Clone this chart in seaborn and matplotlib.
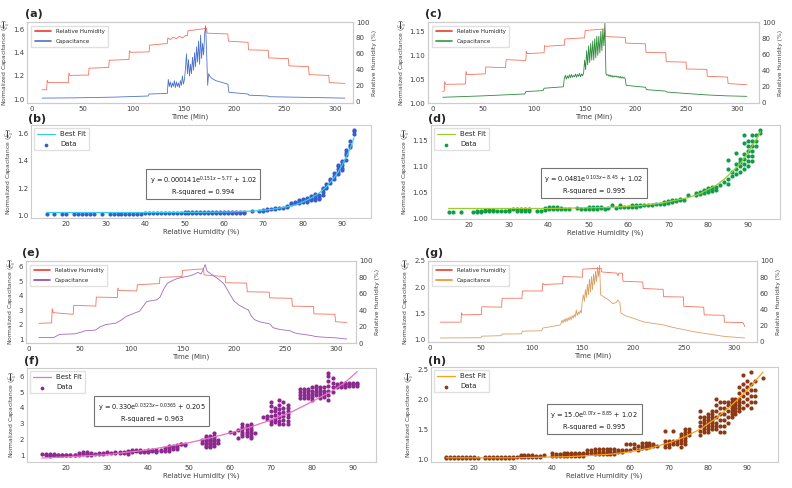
import numpy as np
import pandas as pd
import seaborn as sns
import matplotlib
matplotlib.use("Agg")
import matplotlib.pyplot as plt
from matplotlib.lines import Line2D

# ---------------- time series (top panels) ----------------
# (a)
rh_a_t = [10, 14.5, 15, 16, 36, 36.5, 37.5, 56, 56.5, 76, 76.5, 96, 96.5, 97.5, 116, 116.5, 134, 134.5,
          137, 140, 143, 146, 149, 152, 154, 154.5, 173, 173.5, 194, 194.5, 214, 214.5, 234, 234.5,
          254, 254.5, 274, 274.5, 294, 294.5, 310]
rh_a_v = [15, 15, 27, 24, 24, 36, 33, 33.5, 42, 43, 52, 53, 64, 62, 62.5, 71, 73, 80,
          78, 81, 79, 82, 80, 83, 83, 89, 92, 86, 85, 76, 74.5, 65, 64.5, 55,
          54, 45, 44, 34, 33, 24, 23]
cap_a_t = [10, 40, 80, 115, 116, 134] + list(range(135, 174)) + \
          [174, 175, 176, 178, 182, 186, 190, 194, 195, 214, 215, 234, 235, 260, 285, 310]
cap_a_v = [1.010, 1.012, 1.018, 1.028, 1.045, 1.05,
           1.17, 1.11, 1.15, 1.10, 1.14, 1.11, 1.16, 1.10, 1.15, 1.11, 1.14, 1.10, 1.16, 1.12, 1.20,
           1.13, 1.17, 1.26, 1.39, 1.22, 1.34, 1.20, 1.30, 1.22, 1.36, 1.25, 1.40, 1.28, 1.45, 1.32,
           1.50, 1.30, 1.55, 1.35, 1.48, 1.38, 1.56, 1.63, 1.40,
           1.12, 1.22, 1.20, 1.18, 1.16, 1.15, 1.14, 1.13, 1.06, 1.045, 1.035, 1.028, 1.022, 1.018, 1.014, 1.010]

# (c)
rh_c_t = [10, 11.5, 12, 13, 32.5, 33, 34, 52, 52.5, 72, 72.5, 92, 92.5, 93.5, 110, 110.5, 111.5, 130, 130.5,
          150, 150.5, 170, 170.5, 190, 190.5, 210, 210.5, 230, 230.5, 250, 250.5, 270.5, 271, 291, 291.5, 310]
rh_c_v = [14, 15, 26.5, 23, 23.5, 39, 35, 36, 44.5, 43.5, 53.5, 52.5, 64, 61, 62, 71, 70, 71.5, 79,
          80.5, 89.5, 91.5, 82, 81, 74, 73, 62.5, 62, 51, 50.5, 42, 41.5, 33, 32, 24, 22.5]
cap_c_t = [10, 50, 91, 92, 109, 110, 129] + list(range(130, 191)) + [191, 210, 211, 230, 231, 250, 270, 290, 310]
cap_c_v = [1.012, 1.015, 1.019, 1.024, 1.026, 1.031, 1.034,
           1.052, 1.058, 1.050, 1.057, 1.052, 1.059, 1.053, 1.060, 1.054, 1.058,
           1.055, 1.061, 1.054, 1.060, 1.056, 1.062, 1.055, 1.061, 1.057, 1.063,
           1.09, 1.07, 1.11, 1.08, 1.12, 1.085, 1.125, 1.09, 1.13, 1.09, 1.135,
           1.095, 1.14, 1.10, 1.14, 1.105, 1.15, 1.11, 1.155, 1.12, 1.168,
           1.062, 1.058, 1.060, 1.056, 1.059, 1.055, 1.058, 1.054, 1.057, 1.055,
           1.057, 1.054, 1.056, 1.053, 1.056, 1.052, 1.055, 1.052, 1.054, 1.051,
           1.037, 1.033, 1.028, 1.025, 1.023, 1.020, 1.017, 1.015, 1.014]

# (e)
rh_e_t = [10, 22.5, 23, 24, 43.5, 44, 65.5, 66, 86.5, 87, 88, 105.5, 106, 127.5, 128, 149.5, 150, 170.5, 171,
          191.5, 192, 212.5, 213, 234.5, 235, 256.5, 257, 277.5, 278, 298.5, 299, 310]
rh_e_v = [24, 24.5, 42, 37, 35, 46, 45, 56, 55.5, 67, 64, 63.5, 71, 72.5, 80, 81, 88.5, 90.5, 83,
          81, 73.5, 73, 62.5, 62, 55, 54.5, 45, 44.5, 35.5, 35, 26, 25]
cap_e_t = [10, 20, 25, 30, 45, 50, 55, 65, 70, 75, 85, 90, 95, 105, 108, 112, 115, 125, 128, 132,
           135, 140, 145, 150, 155, 160, 165, 168, 170, 172, 174, 180, 185, 190, 193, 197, 200, 205, 210, 214,
           217, 220, 225, 230, 235, 238, 240, 245, 255, 258, 262, 270, 275, 280, 285, 300, 310]
cap_e_v = [1.11, 1.10, 1.12, 1.32, 1.36, 1.45, 1.57, 1.62, 1.85, 2.0, 2.1, 2.3, 2.56, 2.85, 2.92, 3.3, 3.6, 3.72, 3.9, 4.5,
           4.85, 5.05, 5.2, 5.28, 5.35, 5.45, 5.62, 5.5, 5.8, 6.16, 5.7, 5.4, 5.15, 4.85, 4.5, 4.0, 3.65, 3.35, 3.15, 3.02,
           2.6, 2.35, 2.2, 2.12, 2.05, 1.8, 1.75, 1.66, 1.57, 1.45, 1.38, 1.3, 1.25, 1.17, 1.14, 1.08, 1.0]

# (g)
rh_g_t = [10, 30.5, 31, 32, 50.5, 51, 70.5, 71, 90.5, 91, 110.5, 111, 112, 130.5, 131, 150, 150.5, 168.5, 169,
          184, 185, 186, 189.5, 190, 209.5, 210, 229.5, 230, 249.5, 250, 269.5, 270, 289.5, 290, 308, 309, 310]
rh_g_v = [24.5, 24.5, 36, 33.5, 34, 43.5, 43, 54, 54, 63, 63, 72.5, 71, 72, 81, 80, 90, 91, 86.5,
          85, 81.5, 85, 85, 75, 74, 66, 65, 56, 55.5, 44, 43, 33.5, 33, 24.5, 24, 22, 19]
cap_g_t = [10, 50, 51, 70, 71, 90, 91, 110, 111, 128] + list(range(129, 168)) + \
          [168, 172, 176, 180, 183, 185, 187, 188, 192, 200, 210, 220, 230, 240, 250, 260, 270, 280, 290, 300, 310]
cap_g_v = [1.02, 1.025, 1.055, 1.065, 1.095, 1.10, 1.15, 1.16, 1.21, 1.27,
           1.30, 1.36, 1.31, 1.38, 1.33, 1.40, 1.34, 1.41, 1.36, 1.43, 1.37, 1.45, 1.40, 1.47, 1.42, 1.56,
           1.45, 1.52, 1.48, 1.55, 1.50,
           1.75, 1.85, 1.72, 1.95, 1.80, 2.05, 1.85, 2.15, 1.90, 2.20, 1.95, 2.25, 2.05, 2.30, 2.10, 2.38,
           2.20, 2.42,
           1.85, 1.80, 1.75, 1.68, 1.70, 1.75, 1.70, 1.50, 1.45, 1.40, 1.33, 1.30, 1.27, 1.22, 1.18, 1.14,
           1.11, 1.08, 1.05, 1.035, 1.02]

# ---------------- scatter + fit (bottom panels) ----------------
# (b)
b_rh = [15, 17, 19, 20, 22, 23, 24, 25, 26, 27, 29, 31, 32, 33, 34, 35, 36, 37, 38, 39,
        40, 41, 42, 43, 44, 45, 46, 47, 48, 49, 50, 51, 52, 53, 54, 55, 56, 57, 58, 59,
        60, 61, 62, 63, 64, 65, 67, 69, 70, 71, 72, 73, 74, 75, 76, 77, 78, 79, 80, 81,
        82, 83, 84, 85, 86, 87, 88, 89, 90, 91, 92, 93]
b_cap = [[1.01], [1.01], [1.01], [1.01], [1.01], [1.01], [1.01], [1.01], [1.01], [1.01], [1.01],
         [1.012], [1.012], [1.012], [1.012], [1.012], [1.012], [1.012], [1.012], [1.012],
         [1.015], [1.015], [1.015], [1.015], [1.015], [1.015], [1.015], [1.015], [1.015], [1.015],
         [1.018, 1.022], [1.018, 1.022], [1.018, 1.022], [1.018, 1.022], [1.018, 1.022],
         [1.018, 1.022], [1.018, 1.022], [1.018, 1.022], [1.018, 1.022], [1.018, 1.022],
         [1.02, 1.025], [1.02, 1.025], [1.02, 1.025], [1.02, 1.025], [1.02, 1.025], [1.02, 1.025],
         [1.028], [1.035], [1.035, 1.04], [1.04, 1.045], [1.045], [1.045, 1.05], [1.05], [1.055],
         [1.06, 1.065], [1.08, 1.09], [1.09, 1.1], [1.09, 1.1, 1.11], [1.1, 1.11, 1.12],
         [1.1, 1.11, 1.12, 1.13], [1.11, 1.12, 1.13, 1.14], [1.11, 1.13, 1.15, 1.16],
         [1.12, 1.13, 1.14, 1.15], [1.15, 1.17, 1.19, 1.2], [1.2, 1.21, 1.23], [1.24, 1.26, 1.27],
         [1.27, 1.29, 1.31], [1.3, 1.32, 1.34, 1.36, 1.37], [1.33, 1.35, 1.37, 1.39, 1.4],
         [1.41, 1.44, 1.46, 1.48], [1.5, 1.52, 1.55], [1.6, 1.62, 1.63]]
b_fit_x = [15, 40, 55, 62, 68, 72, 75, 78, 80, 82, 84, 86, 88, 89, 90, 91, 92, 93]
b_fit_y = [1.02, 1.02, 1.022, 1.025, 1.032, 1.043, 1.057, 1.075, 1.098, 1.125, 1.16, 1.21, 1.28, 1.32,
           1.37, 1.43, 1.49, 1.57]

# (d)
d_rh = [15, 16, 18, 21, 22, 23, 24, 25, 26, 27, 28, 29, 30, 31, 32, 33, 34, 35,
        37, 38, 39, 40, 41, 42, 43, 44, 45, 47, 48, 49, 50, 51, 52, 53, 54, 55, 56, 57, 58, 59,
        60, 61, 62, 63, 64, 65, 66, 67, 68, 69, 70, 71, 72, 73, 74, 75,
        77, 78, 79, 80, 81, 82, 83, 84, 85, 86, 87, 88, 89, 90, 91, 92, 93]
d_cap = [[1.012], [1.012], [1.012], [1.012], [1.013, 1.015], [1.013, 1.015], [1.014, 1.016], [1.014, 1.016],
         [1.014, 1.016], [1.015], [1.015], [1.015], [1.015, 1.017], [1.018], [1.015, 1.018], [1.015, 1.018],
         [1.015, 1.018], [1.015, 1.018],
         [1.015], [1.015], [1.017, 1.02], [1.018, 1.021], [1.018, 1.021], [1.018, 1.021], [1.018, 1.02],
         [1.018], [1.018], [1.02], [1.018], [1.018], [1.018, 1.022], [1.018, 1.022], [1.018, 1.022],
         [1.02, 1.022], [1.018], [1.02], [1.025], [1.02], [1.022, 1.025], [1.022],
         [1.022], [1.022, 1.026], [1.022, 1.026], [1.023, 1.026], [1.025], [1.025], [1.026], [1.027],
         [1.028], [1.028, 1.032], [1.03, 1.033], [1.032, 1.036], [1.033, 1.036], [1.035, 1.037], [1.036],
         [1.045],
         [1.045, 1.048], [1.046, 1.05], [1.048, 1.052, 1.055], [1.05, 1.055, 1.058], [1.052, 1.057, 1.06],
         [1.055, 1.06], [1.065], [1.07], [1.067, 1.075, 1.095, 1.112], [1.082, 1.09],
         [1.085, 1.095, 1.105, 1.126], [1.09, 1.1, 1.108, 1.115], [1.095, 1.105, 1.115, 1.125, 1.145, 1.16],
         [1.1, 1.11, 1.12, 1.13, 1.14, 1.15], [1.11, 1.12, 1.13, 1.14, 1.15, 1.16], [1.14, 1.15, 1.16],
         [1.165, 1.17]]
d_fit_x = [15, 40, 55, 62, 68, 72, 75, 78, 80, 82, 84, 86, 88, 90, 92, 93]
d_fit_y = [1.019, 1.019, 1.021, 1.024, 1.029, 1.035, 1.04, 1.048, 1.056, 1.064, 1.076, 1.09, 1.106,
           1.128, 1.152, 1.167]

# (f)
f_rh = [14, 15, 16, 17, 18, 19, 20, 21, 22, 23, 24, 25, 26, 27, 28, 29, 30, 31, 32, 33, 34, 35,
        36, 37, 38, 39, 40, 41, 42, 43, 44, 45, 46, 47, 48, 49, 53, 54, 55, 56, 57,
        60, 61, 62, 63, 64, 65, 66, 68, 69, 70, 71, 72, 73, 74,
        77, 78, 79, 80, 81, 82, 83, 84, 85, 86, 87, 88, 89, 90, 91]
f_cap = [[1.1], [1.05, 1.1], [0.95, 1.05, 1.1], [1.0, 1.05, 1.1], [1.02, 1.05], [1.0, 1.05], [1.0, 1.05],
         [1.0, 1.05], [1.02, 1.05], [1.05, 1.15], [1.1, 1.2], [1.0, 1.1, 1.2], [1.0, 1.1, 1.15], [1.1],
         [1.1, 1.15], [1.1, 1.15], [1.15, 1.2], [1.15], [1.15, 1.2], [1.15, 1.2], [1.15, 1.2],
         [1.1, 1.2, 1.3], [1.2, 1.3, 1.35], [1.25, 1.35], [1.2, 1.3, 1.35], [1.2, 1.3], [1.2, 1.3, 1.35],
         [1.25, 1.35], [1.2, 1.3, 1.35], [1.25, 1.35], [1.3, 1.45], [1.3, 1.4, 1.5, 1.6], [1.4, 1.5, 1.6],
         [1.4, 1.55, 1.65], [1.7, 1.75], [1.65, 1.75],
         [1.8, 2.0], [1.5, 1.6, 1.7, 1.8, 1.9, 2.0, 2.1, 2.2], [1.5, 1.6, 1.7, 1.8, 1.9, 2.0, 2.1, 2.2],
         [1.6, 1.7, 1.8, 1.9, 2.0, 2.1, 2.2, 2.4], [1.8, 2.0],
         [2.45], [2.4], [2.1, 2.6], [2.2, 2.35, 2.5, 2.65, 2.8, 3.0], [2.2, 2.35, 2.5, 2.65, 2.8, 2.95],
         [2.1, 2.25, 2.4, 2.55, 2.7, 2.85, 3.0], [2.4],
         [3.4], [3.3, 3.5], [3.0, 3.2, 3.5, 3.8, 4.1, 4.4], [3.1, 3.3, 3.55, 3.8, 4.0],
         [3.0, 3.2, 3.45, 3.7, 3.95, 4.2, 4.5], [3.0, 3.25, 3.5, 3.75, 4.0, 4.4],
         [3.0, 3.2, 3.4, 3.6, 3.8, 4.0, 4.2],
         [4.6, 4.8, 5.0, 5.2], [4.6, 4.8, 5.0, 5.2], [4.6, 4.75, 4.9, 5.05, 5.2], [4.5, 4.7, 4.9, 5.1, 5.3],
         [4.8, 4.95, 5.1, 5.25, 5.4], [4.6, 4.8, 5.0, 5.15, 5.3], [4.7, 4.9, 5.1, 5.3],
         [4.5, 4.8, 5.1, 5.4, 5.7, 6.0, 6.2], [5.0, 5.3, 5.6, 5.9], [5.3, 5.4, 5.5], [5.35, 5.45, 5.55],
         [5.35, 5.45, 5.55], [5.4, 5.5, 5.6], [5.4, 5.5, 5.6], [5.4, 5.5, 5.6]]
f_fit_x = [14, 20, 30, 40, 50, 55, 60, 65, 70, 75, 80, 85, 88, 91]
f_fit_y = [0.83, 0.9, 1.05, 1.35, 1.8, 2.1, 2.42, 2.8, 3.25, 3.75, 4.4, 5.1, 5.6, 6.3]

# (h)
h_rh = [13, 14, 15, 16, 17, 18, 19, 20, 21,
        23, 24, 25, 26, 27, 28, 29, 30, 31, 32, 33, 34, 35, 36, 37, 38,
        40, 41, 42, 43, 44, 45, 46, 47, 48, 49, 50, 51, 52, 53, 54, 55, 56, 57, 58, 59, 60, 61, 62,
        63, 64, 65, 66, 67,
        69, 70, 71, 72, 73, 74, 75,
        78, 79, 80, 81, 82, 83, 84, 85, 86, 87, 88, 89, 90, 91, 92, 94]
h_cap = [[1.02, 1.04], [1.02, 1.04], [1.02, 1.04], [1.02, 1.04], [1.02, 1.04], [1.02, 1.04],
         [1.02, 1.04], [1.02, 1.04], [1.02],
         [1.02, 1.04], [1.02, 1.04], [1.02, 1.04], [1.02, 1.04], [1.02, 1.04], [1.02, 1.04],
         [1.02, 1.04], [1.02, 1.04], [1.03], [1.03, 1.05, 1.07], [1.03, 1.05, 1.07], [1.03, 1.05, 1.07],
         [1.03, 1.05, 1.07], [1.03, 1.05], [1.03, 1.05], [1.06],
         [1.05, 1.1], [1.05, 1.08], [1.05, 1.08], [1.05, 1.08, 1.1], [1.05, 1.08, 1.1], [1.05, 1.08, 1.1],
         [1.05, 1.08, 1.1], [1.05, 1.08, 1.1], [1.05, 1.08, 1.1], [1.1, 1.15], [1.1, 1.15],
         [1.08, 1.12, 1.16], [1.08, 1.12, 1.16], [1.08, 1.12, 1.16], [1.08, 1.12, 1.16], [1.08, 1.12, 1.16],
         [1.08, 1.12, 1.16], [1.12, 1.15], [1.12, 1.15], [1.15, 1.25], [1.15, 1.25], [1.18, 1.25],
         [1.15, 1.22], [1.18, 1.22, 1.27], [1.18, 1.22, 1.27], [1.2, 1.24, 1.27], [1.22, 1.25], [1.22],
         [1.2, 1.25, 1.3, 1.47], [1.2, 1.25, 1.3], [1.25, 1.3, 1.47], [1.25, 1.3],
         [1.2, 1.26, 1.32, 1.37, 1.42], [1.25, 1.3, 1.35, 1.4, 1.45, 1.5], [1.4, 1.45, 1.5],
         [1.4, 1.47, 1.55, 1.62, 1.7, 1.8], [1.45, 1.5, 1.55, 1.6, 1.65, 1.7],
         [1.45, 1.5, 1.55, 1.6, 1.65, 1.7, 1.75], [1.5, 1.55, 1.6, 1.65, 1.7, 1.75, 1.8],
         [1.5, 1.55, 1.6, 1.7, 1.8, 1.9, 2.0], [1.45, 1.55, 1.65, 1.75, 1.85, 1.95],
         [1.45, 1.55, 1.65, 1.75, 1.85, 1.95], [1.6, 1.7, 1.8, 1.9, 1.95],
         [1.7, 1.75, 1.8, 1.85, 1.9, 1.95, 2.0], [1.75, 1.8, 1.85, 1.9, 1.95, 2.0],
         [1.8, 1.85, 1.9, 1.95, 2.0, 2.1, 2.2], [1.85, 1.95, 2.05, 2.15, 2.25, 2.4],
         [1.9, 2.0, 2.1, 2.2, 2.3], [1.85, 1.95, 2.05, 2.15, 2.25, 2.45], [1.95, 2.05, 2.15, 2.3], [2.35]]
h_fit_x = [13, 30, 45, 55, 60, 65, 70, 74, 78, 82, 86, 90, 92, 94]
h_fit_y = [1.02, 1.02, 1.04, 1.08, 1.12, 1.18, 1.27, 1.37, 1.5, 1.68, 1.9, 2.15, 2.3, 2.45]

eq_b = r"y = 0.000141e$^{0.151x-5.77}$ + 1.02" + "\nR-squared = 0.994"
eq_d = r"y = 0.0481e$^{0.103x-8.45}$ + 1.02" + "\nR-squared = 0.995"
eq_f = r"y = 0.330e$^{0.0323x-0.0365}$ + 0.205" + "\nR-squared = 0.963"
eq_h = r"y = 15.0e$^{0.07x-8.85}$ + 1.02" + "\nR-squared = 0.995"

sns.set_style("white", {"axes.edgecolor": "0.8", "axes.linewidth": 0.8})
plt.rcParams["font.family"] = ["DejaVu Sans"]
plt.rcParams["mathtext.fontset"] = "dejavusans"

RH_COLOR = "#f25a44"
CAP_LABEL = r"Normalized Capacitance ($\frac{C}{C_0}$)"
W, H = 792, 488

fig = plt.figure(figsize=(W / 100, H / 100), dpi=100)


def rect(left, top, right, bottom):
    return [left / W, 1 - bottom / H, (right - left) / W, (bottom - top) / H]


def style_axis(ax):
    ax.tick_params(labelsize=5, length=0, pad=2, colors="0.25")
    for s in ax.spines.values():
        s.set_color("0.8")
        s.set_linewidth(0.8)


def time_panel(box, tag, tagpos, cap_t, cap_v, rh_t, rh_v, color, leg_color, xlim, ylim, yticks, rh_ylim):
    ax = fig.add_axes(rect(*box))
    sns.lineplot(x=cap_t, y=cap_v, ax=ax, color=color, lw=0.6, estimator=None, sort=False)
    ax.set_xlim(*xlim)
    ax.set_ylim(*ylim)
    ax.set_yticks(yticks)
    ax.set_xticks([0, 50, 100, 150, 200, 250, 300])
    ax.set_xlabel("Time (Min)", fontsize=5, labelpad=1, color="0.25")
    ax.set_ylabel(CAP_LABEL, fontsize=4.3, labelpad=0.5, color="0.25")
    style_axis(ax)
    ax2 = ax.twinx()
    sns.lineplot(x=rh_t, y=rh_v, ax=ax2, color=RH_COLOR, lw=0.6, alpha=0.85, estimator=None, sort=False)
    ax2.set_ylim(*rh_ylim)
    ax2.set_yticks([0, 20, 40, 60, 80, 100])
    ax2.set_ylabel("Relative Humidity (%)", fontsize=4.3, labelpad=2, color="0.25")
    style_axis(ax2)
    handles = [Line2D([], [], color="#e83e2a", lw=1.2), Line2D([], [], color=leg_color, lw=1.2)]
    ax2.legend(handles, ["Relative Humidity", "Capacitance"], loc="upper left", fontsize=4,
               frameon=True, edgecolor="0.85", fancybox=False, borderpad=0.6, handlelength=3,
               labelspacing=0.9, bbox_to_anchor=(0.005, 0.99))
    fig.text(tagpos[0] / W, 1 - tagpos[1] / H, tag, fontsize=8, fontweight="bold", ha="left", va="center")


def fit_panel(box, tag, tagpos, rh, cap, fit_x, fit_y, dot_color, fit_color, xlim, ylim, yticks, eq, eqpos):
    ax = fig.add_axes(rect(*box))
    xs = [x for x, ys in zip(rh, cap) for _ in ys]
    ys = [y for ys_ in cap for y in ys_]
    df = pd.DataFrame({"rh": xs, "cap": ys})
    sns.lineplot(x=fit_x, y=fit_y, ax=ax, color=fit_color, lw=0.9, label="Best Fit", zorder=3)
    sns.scatterplot(data=df, x="rh", y="cap", ax=ax, color=dot_color, s=9, linewidth=0, label="Data", zorder=2)
    ax.set_xlim(*xlim)
    ax.set_ylim(*ylim)
    ax.set_yticks(yticks)
    ax.set_xticks([20, 30, 40, 50, 60, 70, 80, 90])
    ax.set_xlabel("Relative Humidity (%)", fontsize=5, labelpad=1, color="0.25")
    ax.set_ylabel(CAP_LABEL, fontsize=4.3, labelpad=0.5, color="0.25")
    style_axis(ax)
    ax.legend(loc="upper left", fontsize=5, frameon=True, edgecolor="0.85", fancybox=False,
              borderpad=0.4, handlelength=2.5, labelspacing=0.6, markerscale=0.9)
    ax.text(eqpos[0], eqpos[1], eq, transform=ax.transAxes, ha="center", va="center", fontsize=4.8,
            linespacing=1.4, color="0.1",
            bbox=dict(boxstyle="square,pad=0.55", fc="white", ec="0.45", lw=0.8))
    fig.text(tagpos[0] / W, 1 - tagpos[1] / H, tag, fontsize=8, fontweight="bold", ha="left", va="center")


time_panel((27, 22, 353, 103), "(a)", (25, 14), cap_a_t, cap_a_v, rh_a_t, rh_a_v, "#4f74cc", "#4a6fd0",
           (-5, 318), (0.968, 1.663), [1.0, 1.2, 1.4, 1.6], (-1.6, 100))
time_panel((428, 22, 759, 103), "(c)", (425, 14), cap_c_t, cap_c_v, rh_c_t, rh_c_v, "#2e8b3a", "#2e9a40",
           (-4.5, 322), (1.0, 1.17), [1.00, 1.05, 1.10, 1.15], (0, 100))
time_panel((26, 261, 356, 343), "(e)", (22, 253), cap_e_t, cap_e_v, rh_e_t, rh_e_v, "#a06abf", "#8e44ad",
           (-2.5, 319), (0.725, 6.41), [1, 2, 3, 4, 5, 6], (0, 100))
time_panel((428, 261, 757, 342), "(g)", (425, 253), cap_g_t, cap_g_v, rh_g_t, rh_g_v, "#dba066", "#f08c2a",
           (-2, 322), (0.943, 2.5), [1.0, 1.5, 2.0, 2.5], (0, 100))

fit_panel((31, 125, 371, 218), "(b)", (28, 119), b_rh, b_cap, b_fit_x, b_fit_y, "#3a5cc5", "#33ccee",
          (11.05, 97.3), (0.98, 1.664), [1.0, 1.2, 1.4, 1.6], eq_b, (0.506, 0.355))
fit_panel((431, 125, 780, 219), "(d)", (428, 119), d_rh, d_cap, d_fit_x, d_fit_y, "#0f9d4a", "#9acd32",
          (10.6, 97.9), (0.9987, 1.18), [1.00, 1.05, 1.10, 1.15], eq_d, (0.467, 0.372))
fit_panel((27, 368, 376, 462), "(f)", (24, 361), f_rh, f_cap, f_fit_x, f_fit_y, "#8b2a8e", "#ee6fc5",
          (10.4, 95.6), (0.58, 6.53), [1, 2, 3, 4, 5, 6], eq_f, (0.358, 0.532))
fit_panel((431, 367, 778, 462), "(h)", (428, 361), h_rh, h_cap, h_fit_x, h_fit_y, "#8b3a15", "#ffa010",
          (9.07, 97.9), (0.95, 2.539), [1.0, 1.5, 2.0, 2.5], eq_h, (0.47, 0.442))

fig.savefig("out.png", dpi=100)
